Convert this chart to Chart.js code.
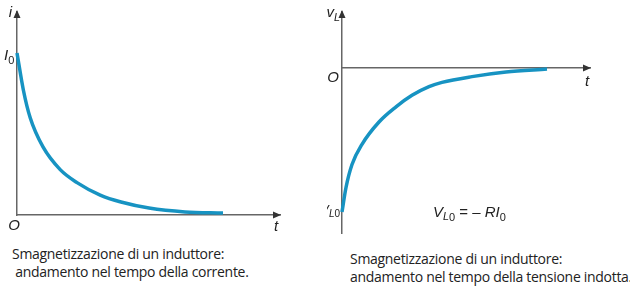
<!DOCTYPE html>
<html>
<head>
<meta charset="utf-8">
<script src="https://cdn.jsdelivr.net/npm/chart.js@4"></script>
<style>
  body { margin: 0; background: #fff; width: 630px; height: 288px; overflow: hidden; position: relative; }
  #current { position: absolute; left: 0; top: 0; }
  #voltage { position: absolute; left: 310px; top: 0; }
  .cap { position: absolute; font-family: "Open Sans", sans-serif; font-size: 14px; line-height: 18px; color: #222; white-space: nowrap; letter-spacing: -0.3px; }
</style>
</head>
<body>
<canvas id="current" width="310" height="242"></canvas>
<canvas id="voltage" width="320" height="242"></canvas>
<div class="cap" style="left:12px;top:245px">Smagnetizzazione di un induttore:<br>&nbsp;andamento nel tempo della corrente.</div>
<div class="cap" style="left:350px;top:250px">Smagnetizzazione di un induttore:<br>andamento nel tempo della tensione indotta.</div>
<script>
// corrente i(t), in unita di I0
const tCurrent = [0, 0.16, 0.33, 0.65, 1.08, 1.5, 2.08, 2.6, 3.3, 4.2, 5.15];
const iCurrent = [1, 0.77, 0.60, 0.42, 0.28, 0.20, 0.123, 0.08, 0.043, 0.019, 0.012];

// tensione vL(t), in unita di |VL0|
const tVoltage = [0, 0.1, 0.25, 0.5, 0.925, 1.35, 1.75, 2.175, 2.5, 3.25, 4.1, 5.125];
const vVoltage = [-1, -0.83, -0.67, -0.53, -0.375, -0.27, -0.19, -0.13, -0.1, -0.06, -0.028, -0.007];

const curveColor = '#1793c2';
const axisColor = '#666';

function points(xs, ys) {
  return xs.map((x, i) => ({ x: x, y: ys[i] }));
}

function hiddenAxis(min, max, extra) {
  return Object.assign({
    type: 'linear', min: min, max: max,
    grid: { display: false, drawTicks: false },
    ticks: { display: false },
    border: { color: axisColor, width: 1.5 }
  }, extra || {});
}

function arrowUp(ctx, x, y) {
  ctx.beginPath();
  ctx.moveTo(x, y);
  ctx.lineTo(x - 3.5, y + 8);
  ctx.lineTo(x + 3.5, y + 8);
  ctx.closePath();
  ctx.fill();
}

function arrowRight(ctx, x, y) {
  ctx.beginPath();
  ctx.moveTo(x, y);
  ctx.lineTo(x - 8, y - 3.5);
  ctx.lineTo(x - 8, y + 3.5);
  ctx.closePath();
  ctx.fill();
}

// testo con pedice: parti [testo, pedice?]
function label(ctx, x, y, parts, size, align) {
  size = size || 15;
  ctx.textBaseline = 'middle';
  let w = 0;
  parts.forEach(p => {
    ctx.font = p.font || ('italic ' + (p.sub ? size * 0.72 : size) + 'px "Liberation Sans", sans-serif');
    w += ctx.measureText(p.text).width;
  });
  let cx = align === 'right' ? x - w : (align === 'center' ? x - w / 2 : x);
  parts.forEach(p => {
    ctx.font = p.font || ('italic ' + (p.sub ? size * 0.72 : size) + 'px "Liberation Sans", sans-serif');
    ctx.fillText(p.text, cx, y + (p.sub ? size * 0.3 : 0));
    cx += ctx.measureText(p.text).width;
  });
}

const decorCurrent = {
  id: 'decorCurrent',
  afterDraw(chart) {
    const ctx = chart.ctx, a = chart.chartArea;
    const y0 = chart.scales.y.getPixelForValue(0);
    const x0 = chart.scales.x.getPixelForValue(0);
    ctx.save();
    ctx.fillStyle = '#333';
    arrowUp(ctx, x0, a.top - 2);
    arrowRight(ctx, a.right + 1, y0);
    ctx.fillStyle = '#222';
    label(ctx, 12, 13, [{ text: 'i' }], 15, 'right');
    label(ctx, 4, 56, [{ text: 'I' }, { text: '0', sub: true, font: '11px "Liberation Sans", sans-serif' }], 15);
    label(ctx, 14, 226, [{ text: 'O' }], 15, 'center');
    label(ctx, 276, 227, [{ text: 't' }], 15, 'center');
    ctx.restore();
  }
};

const decorVoltage = {
  id: 'decorVoltage',
  afterDraw(chart) {
    const ctx = chart.ctx, a = chart.chartArea;
    const y0 = chart.scales.y.getPixelForValue(0);
    const x0 = chart.scales.x.getPixelForValue(0);
    const yMin = chart.scales.y.getPixelForValue(-1);
    ctx.save();
    ctx.fillStyle = '#333';
    arrowUp(ctx, x0, a.top - 2);
    arrowRight(ctx, a.right + 1, y0);
    ctx.fillStyle = '#222';
    label(ctx, x0 - 2, 13, [{ text: 'v' }, { text: 'L', sub: true }], 15, 'right');
    label(ctx, x0 - 9, y0 + 10, [{ text: 'O' }], 15, 'center');
    label(ctx, 277, y0 + 14, [{ text: 't' }], 15, 'center');
    ctx.save();
    ctx.beginPath();
    ctx.rect(17, yMin - 12, 40, 24);
    ctx.clip();
    label(ctx, x0 - 2, yMin - 1, [{ text: 'V', font: 'italic 12px "Liberation Sans", sans-serif' },
      { text: 'L', sub: true, font: 'italic 10px "Liberation Sans", sans-serif' },
      { text: '0', sub: true, font: '10px "Liberation Sans", sans-serif' }], 12, 'right');
    ctx.restore();
    label(ctx, 123, yMin + 1, [{ text: 'V' }, { text: 'L', sub: true }, { text: '0', sub: true, font: '11px "Liberation Sans", sans-serif' },
      { text: ' = \u2013 ', font: '15px "Liberation Sans", sans-serif' }, { text: 'RI' },
      { text: '0', sub: true, font: '11px "Liberation Sans", sans-serif' }], 15);
    ctx.restore();
  }
};

function makeChart(id, xs, ys, scales, padding, decor) {
  return new Chart(document.getElementById(id), {
    type: 'line',
    data: {
      datasets: [{
        data: points(xs, ys),
        borderColor: curveColor,
        borderWidth: 3.5,
        pointRadius: 0,
        fill: false,
        clip: false,
        cubicInterpolationMode: 'monotone'
      }]
    },
    options: {
      responsive: false,
      animation: false,
      layout: { padding: padding },
      plugins: { legend: { display: false }, tooltip: { enabled: false } },
      scales: scales
    },
    plugins: [decor]
  });
}

makeChart('current', tCurrent, iCurrent, {
  x: hiddenAxis(0, 6.575),
  y: hiddenAxis(0, 1.253)
}, { left: 17, top: 12, right: 30, bottom: 27 }, decorCurrent);

makeChart('voltage', tVoltage, vVoltage, {
  x: hiddenAxis(0, 6.2, { position: { y: 0 } }),
  y: hiddenAxis(-1.146, 0.389)
}, { left: 32, top: 12, right: 40, bottom: 9 }, decorVoltage);
</script>
</body>
</html>
